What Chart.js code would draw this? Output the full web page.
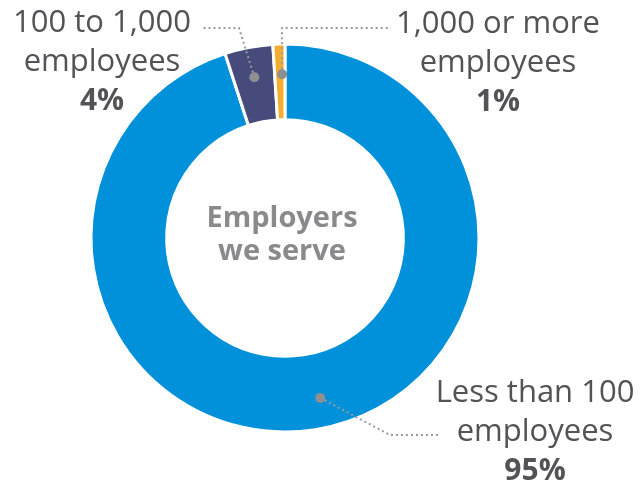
<!DOCTYPE html>
<html>
<head>
<meta charset="utf-8">
<script src="https://cdn.jsdelivr.net/npm/chart.js@4.4.0/dist/chart.umd.min.js"></script>
<style>
  html, body { margin: 0; padding: 0; background: #fff; }
  #wrap { width: 642px; height: 484px; }
</style>
</head>
<body>
<div id="wrap"><canvas id="myChart" width="642" height="484"></canvas></div>
<script>
// employer size groups, in drawing order (clockwise from 12 o'clock)
const categories = ['Less than 100 employees', '100 to 1,000 employees', '1,000 or more employees'];
const labelLines = [['Less than 100', 'employees'], ['100 to 1,000', 'employees'], ['1,000 or more', 'employees']];
const shares = [95, 4, 1];
const sliceColors = ['#0091da', '#464b7c', '#f3ad2f'];
const centerLines = ['Employers', 'we serve'];

// callout layout: text block centre + leader elbow/end, and where on the arc the dot sits
const callouts = [
  { x: 535, y: 402, anchor: 0.49, elbow: [390, 435], end: [441, 435] },
  { x: 102, y: 32, anchor: 0.5, elbow: [239, 28], end: [201, 28] },
  { x: 498, y: 33, anchor: 0.72, elbow: [282, 28], end: [391, 28] }
];

const calloutPlugin = {
  id: 'callouts',
  afterDatasetsDraw(chart) {
    const ctx = chart.ctx;
    const arcs = chart.getDatasetMeta(0).data;
    ctx.save();

    // centre title
    const c = arcs[0];
    ctx.fillStyle = '#8a8a8c';
    ctx.font = 'bold 29px "Open Sans"';
    ctx.textAlign = 'center';
    ctx.textBaseline = 'alphabetic';
    ctx.fillText(centerLines[0], c.x - 3, 227);
    ctx.fillText(centerLines[1], c.x - 3, 260);

    arcs.forEach((arc, i) => {
      const co = callouts[i];
      const a = arc.startAngle + (arc.endAngle - arc.startAngle) * co.anchor;
      const r = arc.innerRadius + (arc.outerRadius - arc.innerRadius) * 0.6;
      const px = arc.x + Math.cos(a) * r;
      const py = arc.y + Math.sin(a) * r;

      // dotted leader
      ctx.strokeStyle = '#9a9a9c';
      ctx.lineWidth = 2;
      ctx.setLineDash([2, 3]);
      ctx.beginPath();
      ctx.moveTo(px, py);
      ctx.lineTo(co.elbow[0], co.elbow[1]);
      ctx.lineTo(co.end[0], co.end[1]);
      ctx.stroke();
      ctx.setLineDash([]);

      ctx.fillStyle = '#8f8f91';
      ctx.beginPath();
      ctx.arc(px, py, 5, 0, Math.PI * 2);
      ctx.fill();

      // label text
      ctx.fillStyle = '#535357';
      ctx.font = '31px "Open Sans"';
      ctx.fillText(labelLines[i][0], co.x, co.y);
      ctx.fillText(labelLines[i][1], co.x, co.y + 39);
      ctx.font = 'bold 30px "Open Sans"';
      ctx.fillText(shares[i] + '%', co.x, co.y + 78);
    });
    ctx.restore();
  }
};

const ctx = document.getElementById('myChart').getContext('2d');
const myChart = new Chart(ctx, {
  type: 'doughnut',
  data: {
    labels: categories,
    datasets: [{
      data: shares,
      backgroundColor: sliceColors,
      borderColor: '#ffffff',
      borderWidth: 3
    }]
  },
  options: {
    responsive: false,
    animation: false,
    cutout: '61%',
    events: [],
    layout: { padding: { top: 42.5, bottom: 50.5, left: 89.5, right: 161.5 } },
    plugins: {
      legend: { display: false },
      tooltip: { enabled: false }
    }
  },
  plugins: [calloutPlugin]
});
</script>
</body>
</html>
